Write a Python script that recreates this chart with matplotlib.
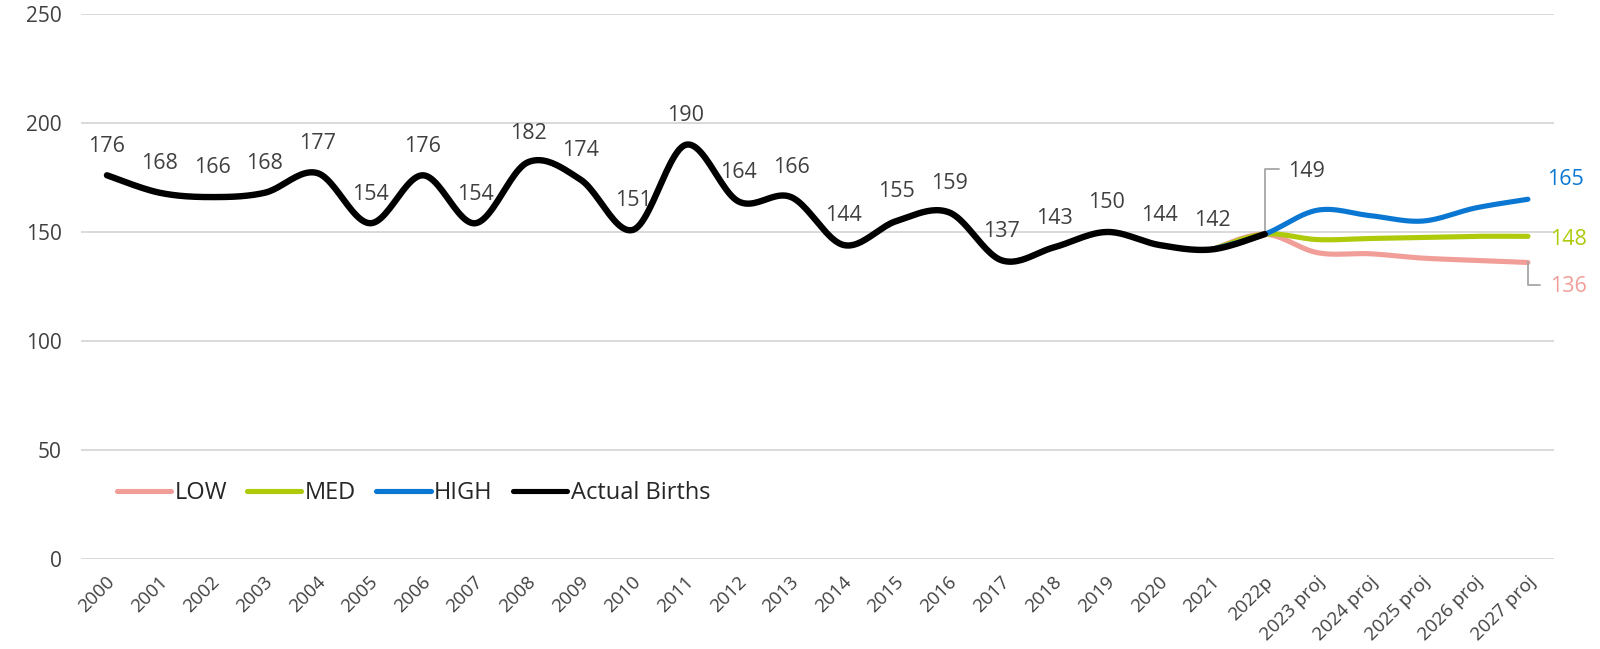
import numpy as np
import matplotlib
matplotlib.use("Agg")
import matplotlib.pyplot as plt
import matplotlib.transforms as mtransforms
from matplotlib.lines import Line2D

plt.rcParams['font.family'] = ['Open Sans', 'DejaVu Sans']

# data
years = ['2000', '2001', '2002', '2003', '2004', '2005', '2006', '2007', '2008',
         '2009', '2010', '2011', '2012', '2013', '2014', '2015', '2016', '2017',
         '2018', '2019', '2020', '2021', '2022p', '2023 proj', '2024 proj',
         '2025 proj', '2026 proj', '2027 proj']
births = [176, 168, 166, 168, 177, 154, 176, 154, 182, 174, 151, 190, 164, 166,
          144, 155, 159, 137, 143, 150, 144, 142, 149]
# projections start at 2021 (hidden under the black line)
proj_start = 21
low = [142, 149, 140.5, 140, 138, 137, 136]
med = [142, 149, 146.5, 147, 147.5, 148, 148]
high = [142, 149, 160, 157.5, 155, 161, 165]

c_low = '#F19E98'
c_med = '#AFCA0B'
c_high = '#0A78D2'
c_text = '#404040'
c_lead = '#A6A6A6'


def smooth(xs, ys, n=24):
    # catmull-rom curve through the points, like excel's smoothed lines
    xs = np.asarray(xs, float)
    ys = np.asarray(ys, float)
    px = np.concatenate([[xs[0]], xs, [xs[-1]]])
    py = np.concatenate([[ys[0]], ys, [ys[-1]]])
    outx, outy = [], []
    t = np.linspace(0, 1, n, endpoint=False)
    for i in range(1, len(px) - 2):
        x0, x1, x2, x3 = px[i - 1:i + 3]
        y0, y1, y2, y3 = py[i - 1:i + 3]
        cx1, cy1 = x1 + (x2 - x0) / 6, y1 + (y2 - y0) / 6
        cx2, cy2 = x2 - (x3 - x1) / 6, y2 - (y3 - y1) / 6
        b0 = (1 - t) ** 3
        b1 = 3 * (1 - t) ** 2 * t
        b2 = 3 * (1 - t) * t ** 2
        b3 = t ** 3
        outx.extend(b0 * x1 + b1 * cx1 + b2 * cx2 + b3 * x2)
        outy.extend(b0 * y1 + b1 * cy1 + b2 * cy2 + b3 * y2)
    outx.append(xs[-1])
    outy.append(ys[-1])
    return np.array(outx), np.array(outy)


fig = plt.figure(figsize=(16, 6.49), dpi=100)
ax = fig.add_axes([0.0504, 0.1387, 0.921, 0.8398])

xb = np.arange(len(births))
xp = np.arange(proj_start, proj_start + len(low))

for vals, col in [(low, c_low), (med, c_med), (high, c_high)]:
    sx, sy = smooth(xp, vals)
    ax.plot(sx, sy, color=col, lw=3.7, solid_capstyle='round', zorder=3)

sx, sy = smooth(xb, births)
ax.plot(sx, sy, color='black', lw=4.6, solid_capstyle='round', zorder=4)

# data labels above actual births (except 2022p which has a leader)
fs = 15.5
for i, v in enumerate(births[:-1]):
    ax.annotate(str(v), (i, v), xytext=(0, 21), textcoords='offset points',
                ha='center', va='center', fontsize=fs, color=c_text, zorder=5)

ax.annotate(str(births[-1]), (len(births) - 1, births[-1]), xytext=(17, 45),
            textcoords='offset points', ha='left', va='center', fontsize=fs,
            color=c_text,
            arrowprops=dict(arrowstyle='-', color=c_lead, lw=1.3, shrinkA=5, shrinkB=0,
                            relpos=(0, 0.62),
                            connectionstyle='angle,angleA=0,angleB=90,rad=0'))

last = len(years) - 1
ax.annotate(str(high[-1]), (last, high[-1]), xytext=(14, 14), textcoords='offset points',
            ha='left', va='center', fontsize=fs, color=c_high)
ax.annotate(str(med[-1]), (last, med[-1]), xytext=(16, -2), textcoords='offset points',
            ha='left', va='center', fontsize=fs, color=c_med)
ax.annotate(str(low[-1]), (last, low[-1]), xytext=(16, -17), textcoords='offset points',
            ha='left', va='center', fontsize=fs, color=c_low,
            arrowprops=dict(arrowstyle='-', color=c_lead, lw=1.3, shrinkA=5, shrinkB=0,
                            relpos=(0, 0.55),
                            connectionstyle='angle,angleA=0,angleB=90,rad=0'))

ax.set_xlim(-0.5, len(years) - 0.5)
ax.set_ylim(0, 250)
ax.set_yticks([0, 50, 100, 150, 200, 250])
ax.set_xticks(range(len(years)))
ax.set_xticklabels(years, rotation=45, ha='right', va='top', rotation_mode='anchor')
ax.tick_params(axis='both', length=0, labelsize=15, labelcolor='#404040')
ax.tick_params(axis='y', pad=13.5)
ax.tick_params(axis='x', pad=10, labelsize=13.5)
shift = mtransforms.ScaledTranslation(-1 / 72, 0, fig.dpi_scale_trans)
for lab in ax.get_xticklabels():
    lab.set_transform(lab.get_transform() + shift)
ax.grid(axis='y', color='#D9D9D9', lw=1.4)
ax.set_axisbelow(True)
for s in ax.spines.values():
    s.set_visible(False)

handles = [Line2D([], [], color=c_low, lw=3.7, solid_capstyle='round'),
           Line2D([], [], color=c_med, lw=3.7, solid_capstyle='round'),
           Line2D([], [], color=c_high, lw=3.7, solid_capstyle='round'),
           Line2D([], [], color='black', lw=3.7, solid_capstyle='round')]
ax.legend(handles, ['LOW', 'MED', 'HIGH', 'Actual Births'], loc='center left',
          bbox_to_anchor=(0.018, 0.121), ncol=4, frameon=False, fontsize=17,
          handlelength=2.3, handletextpad=0.15, columnspacing=0.85,
          labelcolor='#262626', borderaxespad=0)

fig.savefig('out.png', dpi=100)
